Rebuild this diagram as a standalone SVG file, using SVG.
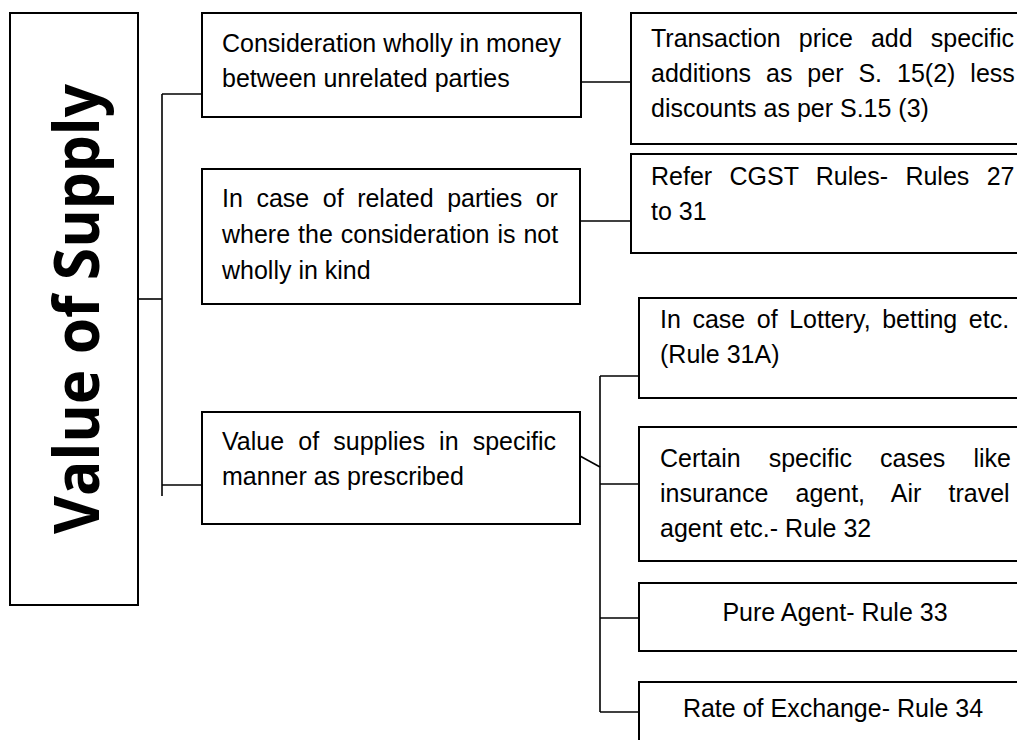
<svg xmlns="http://www.w3.org/2000/svg" width="1017" height="740" viewBox="0 0 1017 740">
<style>
  .box { fill: #fff; stroke: #000; stroke-width: 2; }
  .t { font-family: "Liberation Sans", Arial, sans-serif; font-size: 25px; fill: #000; }
  .c { text-anchor: middle; }
  .title { font-family: "Open Sans", "DejaVu Sans", sans-serif; font-weight: 700; font-size: 63px; fill: #000; text-anchor: middle; }
  .conn { fill: none; stroke: #000; stroke-width: 1.6; }
</style>
<rect width="1017" height="740" fill="#fff"/>
<g id="connectors">
  <path class="conn" d="M138 299 H162"/>
  <path class="conn" d="M162 94 V496"/>
  <path class="conn" d="M162 94 H202"/>
  <path class="conn" d="M162 485 H202"/>
  <path class="conn" d="M581 82 H631"/>
  <path class="conn" d="M580 221 H633"/>
  <path class="conn" d="M580 456 L600 467"/>
  <path class="conn" d="M600 376 V712"/>
  <path class="conn" d="M600 376 H639"/>
  <path class="conn" d="M600 484 H639"/>
  <path class="conn" d="M600 618 H639"/>
  <path class="conn" d="M600 712 H639"/>
</g>
<g id="value-of-supply">
  <rect class="box" x="10" y="13" width="128" height="592"/>
  <text class="title" transform="translate(99,309) rotate(-90)" textLength="450" lengthAdjust="spacingAndGlyphs">Value of Supply</text>
</g>
<g id="money-unrelated">
  <rect class="box" x="202" y="13" width="379" height="104"/>
  <text class="t" x="222" y="52">Consideration wholly in money</text>
  <text class="t" x="222" y="87">between unrelated parties</text>
</g>
<g id="related-parties">
  <rect class="box" x="202" y="169" width="378" height="135"/>
  <text class="t" x="222" y="207" word-spacing="6.6">In case of related parties or</text>
  <text class="t" x="222" y="243" word-spacing="1">where the consideration is not</text>
  <text class="t" x="222" y="279">wholly in kind</text>
</g>
<g id="specific-manner">
  <rect class="box" x="202" y="412" width="378" height="112"/>
  <text class="t" x="222" y="450" word-spacing="7.2">Value of supplies in specific</text>
  <text class="t" x="222" y="485">manner as prescribed</text>
</g>
<g id="transaction-price">
  <rect class="box" x="631" y="13" width="404" height="131"/>
  <text class="t" x="651" y="47" word-spacing="11.1">Transaction price add specific</text>
  <text class="t" x="651" y="82" word-spacing="8">additions as per S. 15(2) less</text>
  <text class="t" x="651" y="117">discounts as per S.15 (3)</text>
</g>
<g id="cgst-rules">
  <rect class="box" x="631" y="154" width="404" height="99"/>
  <text class="t" x="651" y="185" word-spacing="10.4">Refer CGST Rules- Rules 27</text>
  <text class="t" x="651" y="220">to 31</text>
</g>
<g id="lottery">
  <rect class="box" x="639" y="298" width="396" height="100"/>
  <text class="t" x="660" y="328" word-spacing="4.6">In case of Lottery, betting etc.</text>
  <text class="t" x="660" y="363">(Rule 31A)</text>
</g>
<g id="specific-cases">
  <rect class="box" x="639" y="427" width="396" height="134"/>
  <text class="t" x="660" y="467" word-spacing="21.1">Certain specific cases like</text>
  <text class="t" x="660" y="502" word-spacing="20.2">insurance agent, Air travel</text>
  <text class="t" x="660" y="537">agent etc.- Rule 32</text>
</g>
<g id="pure-agent">
  <rect class="box" x="639" y="583" width="396" height="68"/>
  <text class="t c" x="835" y="621">Pure Agent- Rule 33</text>
</g>
<g id="rate-of-exchange">
  <rect class="box" x="639" y="682" width="396" height="80"/>
  <text class="t c" x="833" y="717">Rate of Exchange- Rule 34</text>
</g>
</svg>
